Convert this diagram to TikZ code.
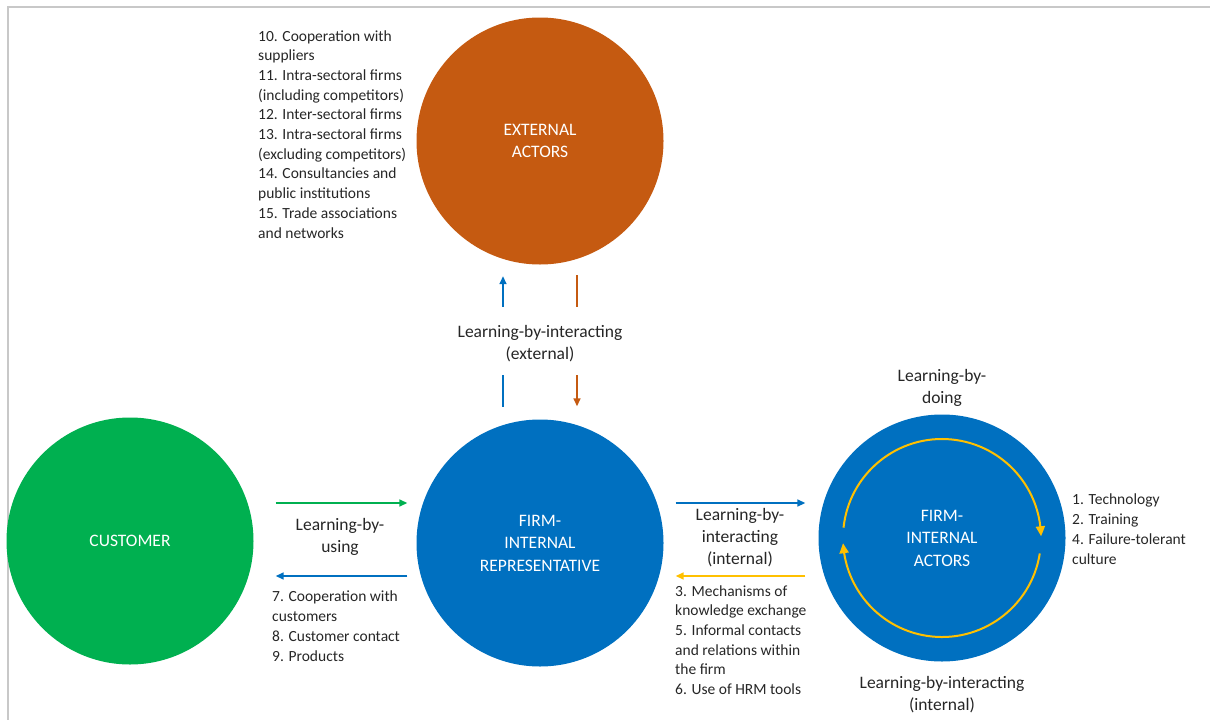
\documentclass[tikz,border=0pt]{standalone}
\usepackage{fontspec}
\setmainfont{Carlito}
\usetikzlibrary{arrows.meta,bending}
\definecolor{extorange}{HTML}{C55A11}
\definecolor{firmblue}{HTML}{0070C0}
\definecolor{custgreen}{HTML}{00B050}
\definecolor{loopgold}{HTML}{FFC000}
\definecolor{txtgray}{HTML}{262626}
\definecolor{framegray}{HTML}{C8C8C8}
\begin{document}
\begin{tikzpicture}[x=1pt, y=-1pt,
  actor/.style={circle, fill=#1, minimum size=247pt, inner sep=0pt, text=white, align=center, font=\fontsize{17.5}{22.5}\selectfont},
  phase/.style={align=center, anchor=base, inner sep=0pt, text=txtgray, font=\fontsize{17.5}{22}\selectfont},
  items/.style={align=left, anchor=base west, inner sep=0pt, text=txtgray, font=\fontsize{15.5}{19.7}\selectfont},
  flow/.style={draw=#1, line width=1.5pt, -{Triangle[length=8pt,width=7pt]}},
  bare/.style={draw=#1, line width=1.5pt},
  loop/.style={draw=loopgold, line width=2pt, -{Triangle[length=10pt,width=9pt,bend]}}]
\useasboundingbox (0,0) rectangle (1210,720);
\draw[framegray, line width=2pt] (8,720) -- (8,7) -- (1210,7);
\node[actor=extorange] (ext) at (540,141){EXTERNAL\\ACTORS};
\node[actor=custgreen] (cust) at (130,541){CUSTOMER};
\node[actor=firmblue] (rep) at (540,543){FIRM-\\INTERNAL\\REPRESENTATIVE};
\node[actor=firmblue] (act) at (942,538){FIRM-\\INTERNAL\\ACTORS};
% multi-line nodes sit on the baseline of their last line
\node[phase] (lbiext) at (540,359){Learning-by-interacting\\(external)};
\node[phase] (lbu) at (340,552){Learning-by-\\using};
\node[phase] (lbiint) at (740,564){Learning-by-\\interacting\\(internal)};
\node[phase] (lbd) at (942,403){Learning-by-\\doing};
\node[phase] (lbiloop) at (942,710){Learning-by-interacting\\(internal)};
\node[items] (extlist) at (258,238){10. Cooperation with\\suppliers\\11. Intra-sectoral firms\\(including competitors)\\12. Inter-sectoral firms\\13. Intra-sectoral firms\\(excluding competitors)\\14. Consultancies and\\public institutions\\15. Trade associations\\and networks};
\node[items] (custlist) at (272,661){7. Cooperation with\\customers\\8. Customer contact\\9. Products};
\node[items] (intlist) at (675,694.5){3. Mechanisms of\\knowledge exchange\\5. Informal contacts\\and relations within\\the firm\\6. Use of HRM tools};
\node[items] (actlist) at (1072,564){1. Technology\\2. Training\\4. Failure-tolerant\\culture};
% customer <-> representative
\draw[flow=custgreen, shorten <=22pt, shorten >=9pt] (cust.east |- 0,503) -- (rep.west |- 0,503);
\draw[flow=firmblue, shorten <=9pt, shorten >=22pt] (rep.west |- 0,576) -- (cust.east |- 0,576);
% representative <-> internal actors
\draw[flow=firmblue, shorten <=12pt, shorten >=13pt] (rep.east |- 0,503) -- (act.west |- 0,503);
\draw[flow=loopgold, shorten <=13pt, shorten >=12pt] (act.west |- 0,576) -- (rep.east |- 0,576);
% representative <-> external actors, broken by the label
\draw[bare=firmblue, shorten <=12.5pt, shorten >=110.5pt] (rep.north -| 503,0) -- (ext.south -| 503,0);
\draw[flow=firmblue, shorten <=112.5pt, shorten >=11.5pt] (rep.north -| 503,0) -- (ext.south -| 503,0);
\draw[bare=extorange, shorten <=10.5pt, shorten >=112.5pt] (ext.south -| 577,0) -- (rep.north -| 577,0);
\draw[flow=extorange, shorten <=110.5pt, shorten >=13pt] (ext.south -| 577,0) -- (rep.north -| 577,0);
% learning loop inside the actors
\draw[loop] (act.center) ++(186:99) arc[start angle=186, end angle=359, radius=99];
\draw[loop] (act.center) ++(9:99) arc[start angle=9, end angle=177, radius=99];
\end{tikzpicture}
\end{document}
